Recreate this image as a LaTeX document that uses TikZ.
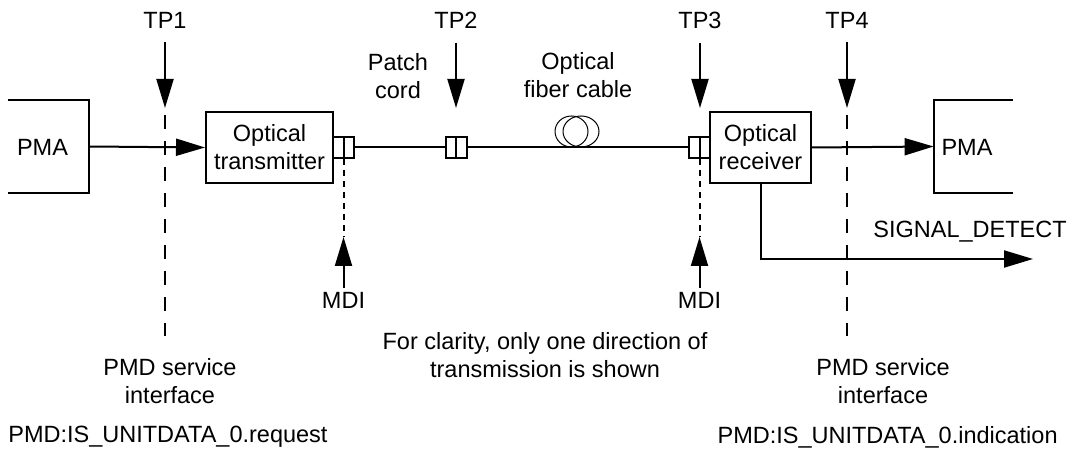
\documentclass[tikz,border=0pt]{standalone}
\usepackage{fontspec}
\setmainfont{Liberation Sans}
\usetikzlibrary{positioning,calc}
\usetikzlibrary{arrows.meta}
\tikzset{
  blk/.style={draw=black,line width=1pt,inner sep=0pt,align=center,minimum height=35.5pt},
  pmabox/.style={inner sep=0pt,minimum height=46.5pt},
  plug/.style={draw=black,line width=1pt,fill=white,minimum width=10.5pt,minimum height=10.5pt,inner sep=0pt,
    path picture={\draw[line width=1pt] (path picture bounding box.north) -- (path picture bounding box.south);}},
  lbl/.style={inner sep=0pt,align=center},
}
\tikzset{wire/.style={draw=black,line width=1pt}, sig/.style={wire,-{Triangle[length=14.5pt,width=8.5pt]}},
  tpline/.style={wire,dash pattern=on 7pt off 6pt}, mdiline/.style={wire,dash pattern=on 3pt off 2.5pt},
  coil/.style={draw=black,line width=0.5pt}}

\begin{document}
\begin{tikzpicture}[x=0.5pt,y=-0.5pt,every node/.style={font=\fontsize{11.75}{14}\selectfont}]
\useasboundingbox (0,0) rectangle (1074,453);
\node[pmabox,minimum width=40.5pt] (pmal) at (48.5,146.5) {};
\node[pmabox,minimum width=39.5pt] (pmar) at (973.5,146.5) {};
\node[blk,minimum width=63.5pt] (tx) at (269.5,147.5) {Optical\\transmitter};
\node[blk,minimum width=50.5pt] (rx) at (760.5,147.5) {Optical\\receiver};
\draw[wire] (pmal.north west) -- (pmal.north east) -- (pmal.south east) -- (pmal.south west);
\draw[wire] (pmar.north east) -- (pmar.north west) -- (pmar.south west) -- (pmar.south east);
\node[lbl] (pmaltxt) at (42.5,147) {PMA};
\node[lbl] (pmartxt) at (967,147) {PMA};
\node[lbl] (tp1) at (165,20) {TP1};
\node[lbl] (tp2) at (456,20) {TP2};
\node[lbl] (tp3) at (700,20) {TP3};
\node[lbl] (tp4) at (847,20) {TP4};
\coordinate (tp1tip) at (165,108);
\coordinate (tp2tip) at (456,108);
\coordinate (tp3tip) at (700,108);
\coordinate (tp4tip) at (847,108);
\coordinate (tp1end) at (165,336);
\coordinate (tp4end) at (847,336);
\draw[tpline] ([yshift=-3.5pt]tp1tip) -- (tp1end);
\draw[tpline] ([yshift=-3.5pt]tp4tip) -- (tp4end);
\draw[sig] (pmal.east) -- (tx.west);
\draw[sig] (rx.east) -- (pmar.west);
\node[plug] (ctx) at (343.5,147.5) {};
\node[plug] (cpc) at (456,147.5) {};
\node[plug] (crx) at (699.5,147.5) {};
\draw[wire] (ctx.east) -- (cpc.west);
\draw[wire] (cpc.east) -- (crx.west);
\draw[coil] (571.5,131.5) ellipse [x radius=8.25pt,y radius=7.75pt];
\draw[coil] (581,131.5) ellipse [x radius=9pt,y radius=7.75pt];
\draw[sig,shorten <=7pt] (tp1.south) -- (tp1tip);
\draw[sig,shorten <=7pt] (tp2.south) -- (tp2tip);
\draw[sig,shorten <=7pt] (tp3.south) -- (tp3tip);
\draw[sig,shorten <=7pt] (tp4.south) -- (tp4tip);
\node[lbl] (patch) at (398,76) {Patch\\cord};
\node[lbl] (fiber) at (578,75) {Optical\\fiber cable};
\node[lbl] (mdi1) at (343.5,300) {MDI};
\node[lbl] (mdi2) at (699.5,300) {MDI};
\coordinate (mdi1tip) at (343.5,237);
\coordinate (mdi2tip) at (699.5,237);
\draw[mdiline] (ctx.south) -- (mdi1tip);
\draw[mdiline] (crx.south) -- (mdi2tip);
\draw[sig,shorten <=2pt] (mdi1.north) -- (mdi1tip);
\draw[sig,shorten <=2pt] (mdi2.north) -- (mdi2tip);
\coordinate (sdtip) at (1033,259);
\draw[sig] (rx.south) |- (sdtip);
\node[lbl,anchor=west] (sd) at (873,232) {SIGNAL\_DETECT};
\node[lbl] (note) at (545,355) {For clarity, only one direction of\\transmission is shown};
\node[lbl] (pmdl) at (170,381) {PMD service\\interface};
\node[lbl] (pmdr) at (883,381) {PMD service\\interface};
\node[lbl,anchor=west] (req) at (8,437) {PMD:IS\_UNITDATA\_0.request};
\node[lbl,anchor=east] (ind) at (1058,437) {PMD:IS\_UNITDATA\_0.indication};
\end{tikzpicture}
\end{document}
